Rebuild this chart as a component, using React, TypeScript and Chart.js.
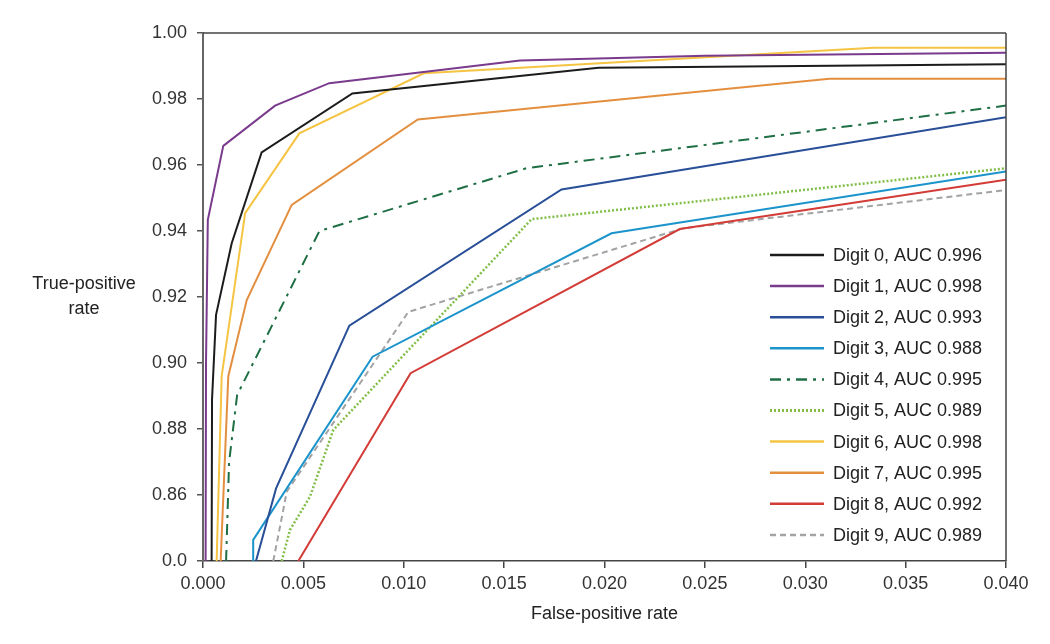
import React, { useEffect, useRef } from "react";
import { Chart, registerables } from "chart.js";

Chart.register(...registerables);

// ROC curves (false-positive rate vs true-positive rate) per digit class
const digit0Fpr = [0.00043, 0.00045, 0.00065, 0.00143, 0.00292, 0.00744, 0.0197, 0.04];
const digit0Tpr = [0.84, 0.889, 0.9146, 0.9363, 0.9638, 0.9817, 0.9895, 0.9905];

const digit1Fpr = [0.00013, 0.00015, 0.00024, 0.00101, 0.00359, 0.00629, 0.01579, 0.025, 0.04];
const digit1Tpr = [0.84, 0.9, 0.9434, 0.9658, 0.978, 0.9848, 0.9917, 0.9931, 0.994];

const digit2Fpr = [0.00264, 0.00364, 0.00729, 0.01786, 0.04];
const digit2Tpr = [0.84, 0.862, 0.9113, 0.9526, 0.9745];

const digit3Fpr = [0.0025, 0.0025, 0.00845, 0.02035, 0.04];
const digit3Tpr = [0.84, 0.8464, 0.9019, 0.9393, 0.958];

const digit4Fpr = [0.00115, 0.0013, 0.0017, 0.0058, 0.0161, 0.04];
const digit4Tpr = [0.84, 0.87, 0.8903, 0.94, 0.959, 0.978];

const digit5Fpr = [0.00392, 0.00433, 0.00533, 0.00591, 0.00649, 0.01637, 0.04];
const digit5Tpr = [0.84, 0.8494, 0.8595, 0.8696, 0.8797, 0.9436, 0.959];

const digit6Fpr = [0.00068, 0.00093, 0.0021, 0.0048, 0.011, 0.0334, 0.04];
const digit6Tpr = [0.84, 0.896, 0.9454, 0.9696, 0.9878, 0.9955, 0.9955];

const digit7Fpr = [0.00088, 0.00126, 0.00218, 0.00442, 0.0107, 0.0312, 0.04];
const digit7Tpr = [0.84, 0.896, 0.9191, 0.9479, 0.9738, 0.9861, 0.9861];

const digit8Fpr = [0.00475, 0.01034, 0.02375, 0.04];
const digit8Tpr = [0.84, 0.8969, 0.9406, 0.9555];

const digit9Fpr = [0.0035, 0.004, 0.00417, 0.01023, 0.0239, 0.04];
const digit9Tpr = [0.84, 0.8555, 0.861, 0.9155, 0.9408, 0.9524];

const seriesLabels = [
  "Digit 0, AUC 0.996",
  "Digit 1, AUC 0.998",
  "Digit 2, AUC 0.993",
  "Digit 3, AUC 0.988",
  "Digit 4, AUC 0.995",
  "Digit 5, AUC 0.989",
  "Digit 6, AUC 0.998",
  "Digit 7, AUC 0.995",
  "Digit 8, AUC 0.992",
  "Digit 9, AUC 0.989",
];

const seriesFpr = [digit0Fpr, digit1Fpr, digit2Fpr, digit3Fpr, digit4Fpr, digit5Fpr, digit6Fpr, digit7Fpr, digit8Fpr, digit9Fpr];
const seriesTpr = [digit0Tpr, digit1Tpr, digit2Tpr, digit3Tpr, digit4Tpr, digit5Tpr, digit6Tpr, digit7Tpr, digit8Tpr, digit9Tpr];

const seriesColors = [
  "#1c1c1c",
  "#7a3b8c",
  "#284f98",
  "#1b94cc",
  "#1f6f45",
  "#82be48",
  "#f6c443",
  "#e38f3f",
  "#d33b36",
  "#a3a3a3",
];

const seriesDashes: number[][] = [[], [], [], [], [11, 6, 3, 6], [2, 2], [], [], [], [6, 4]];

const yTickMin = 0.84;
const yTickMax = 1.0;
const xTickMax = 0.04;

const FONT = "'Liberation Sans', Arial, sans-serif";

const decorPlugin = {
  id: "decor",
  afterDraw(chart: any) {
    const { ctx, chartArea } = chart;
    const { left, right, top, bottom } = chartArea;
    ctx.save();
    // top and right frame lines
    ctx.strokeStyle = "#444";
    ctx.lineWidth = 1.5;
    ctx.beginPath();
    ctx.moveTo(left, top);
    ctx.lineTo(right, top);
    ctx.moveTo(right, top);
    ctx.lineTo(right, bottom);
    ctx.stroke();

    // legend inside the plot area
    const rowStart = top + 222;
    const rowGap = 31.1;
    chart.data.datasets.forEach((ds: any, i: number) => {
      const y = rowStart + i * rowGap;
      ctx.strokeStyle = ds.borderColor;
      ctx.lineWidth = ds.borderWidth + 0.5;
      ctx.setLineDash(ds.borderDash || []);
      ctx.beginPath();
      ctx.moveTo(left + 567, y);
      ctx.lineTo(left + 621, y);
      ctx.stroke();
      ctx.setLineDash([]);
      ctx.fillStyle = "#222";
      ctx.font = `18px ${FONT}`;
      ctx.textAlign = "left";
      ctx.textBaseline = "middle";
      ctx.fillText(ds.label, left + 630, y + 1);
    });

    // axis titles
    ctx.fillStyle = "#222";
    ctx.font = `18px ${FONT}`;
    ctx.textAlign = "center";
    ctx.textBaseline = "middle";
    ctx.fillText("True-positive", 76, 276);
    ctx.fillText("rate", 76, 301);
    ctx.fillText("False-positive rate", (left + right) / 2, 606);
    ctx.restore();
  },
};

export default function App() {
  const canvasRef = useRef<HTMLCanvasElement | null>(null);

  useEffect(() => {
    if (!canvasRef.current) return;
    const datasets = seriesLabels.map((label, i) => ({
      label,
      data: seriesFpr[i].map((x, j) => ({ x, y: seriesTpr[i][j] })),
      borderColor: seriesColors[i],
      backgroundColor: seriesColors[i],
      borderWidth: i === 5 ? 2.5 : 2,
      borderDash: seriesDashes[i],
      pointRadius: 0,
      tension: 0,
      fill: false,
    }));

    const chart = new Chart(canvasRef.current, {
      type: "line",
      data: { datasets },
      options: {
        animation: false,
        responsive: false,
        maintainAspectRatio: false,
        layout: { padding: { top: 25, right: 36, left: 0, bottom: 0 } },
        plugins: {
          legend: { display: false },
          tooltip: { enabled: false },
        },
        scales: {
          x: {
            type: "linear",
            min: 0,
            max: xTickMax,
            afterFit: (s: any) => {
              s.height = 75;
            },
            ticks: {
              stepSize: 0.005,
              color: "#333",
              padding: 5,
              font: { size: 18, family: FONT },
              callback: (v: any) => Number(v).toFixed(3),
            },
            grid: {
              drawOnChartArea: false,
              drawTicks: true,
              tickLength: 7,
              color: "#444",
              lineWidth: 1.5,
            },
            border: { display: true, color: "#444", width: 1.5 },
          },
          y: {
            type: "linear",
            min: yTickMin,
            max: yTickMax,
            afterFit: (s: any) => {
              s.width = 195;
            },
            ticks: {
              stepSize: 0.02,
              color: "#333",
              padding: 10,
              font: { size: 18, family: FONT },
              callback: (v: any) => (Math.abs(Number(v) - yTickMin) < 1e-9 ? "0.0" : Number(v).toFixed(2)),
            },
            grid: {
              drawOnChartArea: false,
              drawTicks: true,
              tickLength: 6,
              color: "#555",
              lineWidth: 1.5,
            },
            border: { display: true, color: "#666", width: 2 },
          },
        },
      },
      plugins: [decorPlugin],
    } as any);

    return () => {
      chart.destroy();
    };
  }, []);

  return (
    <div style={{ width: 1034, height: 628 }}>
      <canvas ref={canvasRef} width={1034} height={628} style={{ display: "block" }} />
    </div>
  );
}
